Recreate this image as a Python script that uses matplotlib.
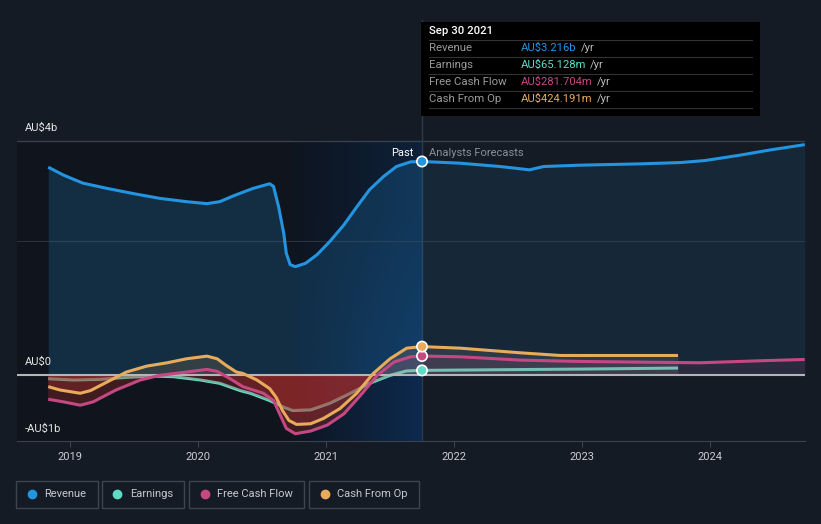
import numpy as np
import matplotlib.pyplot as plt
from matplotlib.patches import Rectangle
from matplotlib.lines import Line2D

plt.rcParams['font.family'] = ['Roboto', 'DejaVu Sans']

# dados (AU$ bilhoes)
anos_passado = [2018.83, 2018.95, 2019.10, 2019.29, 2019.50, 2019.70, 2019.91, 2020.07, 2020.17,
                2020.28, 2020.43, 2020.56, 2020.59, 2020.63, 2020.67, 2020.69, 2020.72, 2020.76,
                2020.84, 2020.93, 2021.03, 2021.14, 2021.24, 2021.34, 2021.45, 2021.55, 2021.66, 2021.75]
receita_passado = [3.13, 3.01, 2.89, 2.81, 2.73, 2.66, 2.61, 2.58, 2.61,
                   2.70, 2.81, 2.88, 2.84, 2.53, 2.13, 1.83, 1.66, 1.63,
                   1.68, 1.81, 2.01, 2.26, 2.53, 2.79, 2.99, 3.14, 3.21, 3.216]

anos_receita_prev = [2021.75, 2022.05, 2022.36, 2022.59, 2022.70, 2022.98, 2023.45, 2023.77,
                     2023.96, 2024.23, 2024.47, 2024.74]
receita_prev = [3.216, 3.19, 3.14, 3.09, 3.14, 3.16, 3.18, 3.20, 3.23, 3.31, 3.39, 3.47]

anos_lucro = [2018.83, 2019.03, 2019.23, 2019.44, 2019.65, 2019.81, 2020.02, 2020.17, 2020.33,
              2020.41, 2020.56, 2020.67, 2020.74, 2020.88, 2021.03, 2021.19, 2021.34, 2021.50,
              2021.63, 2021.75]
lucro = [-0.06, -0.08, -0.07, -0.04, -0.02, -0.03, -0.08, -0.13, -0.24,
         -0.28, -0.39, -0.49, -0.54, -0.53, -0.43, -0.28, -0.13, -0.01,
         0.057, 0.065]
anos_lucro_prev = [2021.75, 2022.05, 2023.00, 2023.75]
lucro_prev = [0.065, 0.07, 0.085, 0.10]

anos_caixa_op = [2018.83, 2018.92, 2019.08, 2019.16, 2019.29, 2019.44, 2019.60, 2019.76, 2019.91,
                 2020.07, 2020.15, 2020.22, 2020.30, 2020.35, 2020.46, 2020.56, 2020.61, 2020.66,
                 2020.71, 2020.77, 2020.88, 2020.98, 2021.11, 2021.24, 2021.37, 2021.50, 2021.63,
                 2021.75]
caixa_op = [-0.18, -0.23, -0.28, -0.24, -0.11, 0.04, 0.13, 0.18, 0.24,
            0.28, 0.24, 0.14, 0.04, 0.02, -0.08, -0.21, -0.34, -0.54,
            -0.69, -0.75, -0.74, -0.66, -0.51, -0.28, 0.02, 0.24, 0.40,
            0.424]
anos_caixa_op_prev = [2021.75, 2022.05, 2022.52, 2022.83, 2023.75]
caixa_op_prev = [0.424, 0.40, 0.33, 0.29, 0.29]

anos_fcl = [2018.83, 2018.95, 2019.08, 2019.18, 2019.36, 2019.55, 2019.70, 2019.91, 2020.07,
            2020.15, 2020.25, 2020.35, 2020.51, 2020.59, 2020.65, 2020.69, 2020.76, 2020.88,
            2021.01, 2021.14, 2021.27, 2021.40, 2021.53, 2021.66, 2021.75]
fcl = [-0.37, -0.41, -0.46, -0.41, -0.23, -0.08, -0.01, 0.04, 0.08,
       0.05, -0.06, -0.18, -0.28, -0.39, -0.64, -0.81, -0.89, -0.85,
       -0.76, -0.59, -0.31, -0.01, 0.19, 0.27, 0.2817]
anos_fcl_prev = [2021.75, 2022.05, 2022.52, 2022.98, 2023.45, 2023.92, 2024.39, 2024.74]
fcl_prev = [0.2817, 0.27, 0.22, 0.20, 0.19, 0.18, 0.21, 0.23]

anos_ticks = [2019, 2020, 2021, 2022, 2023, 2024]

cor_receita = '#2394df'
cor_lucro = '#5fdcc6'
cor_fcl = '#c64883'
cor_caixa = '#e8ab5b'

W, H = 821, 524
def fx(px):
    return px / W
def fy(py):
    return 1 - py / H

fig = plt.figure(figsize=(W / 100, H / 100), dpi=100)
fig.patch.set_facecolor('#151b25')

ax = fig.add_axes([fx(17), fy(441), 788 / W, (441 - 20) / H])
ax.set_facecolor('none')
x0, x1 = 2018.586, 2024.742
topo = 3.53
hoje = 2021.75
inicio_destaque = 2020.74

# regiao do passado (mais escura) e faixa do ultimo ano
ax.fill_between([x0, inicio_destaque], -1, topo, color='#10151d', zorder=0, lw=0)
grad = np.linspace(0, 1, 200)
cor_a = np.array([13, 21, 32]) / 255
cor_b = np.array([14, 42, 78]) / 255
img = np.zeros((2, 200, 3))
for i in range(3):
    img[0, :, i] = cor_a[i] + (cor_b[i] - cor_a[i]) * grad
    img[1, :, i] = cor_a[i] + (cor_b[i] - cor_a[i]) * grad * 0.55
ax.imshow(img, extent=[inicio_destaque, hoje, -1, topo], aspect='auto', zorder=0.5,
          interpolation='bilinear', origin='lower')
ax.set_xlim(x0, x1)
ax.set_ylim(-1.0, 5.35)

# grades
ax.axhline(topo, color='#3a4049', lw=1, zorder=1)
ax.axhline(2.02, color='#2a313b', lw=0.8, zorder=1)
ax.axvline(hoje, color='#2c3a4f', lw=1, zorder=1)

# areas
ax.fill_between(anos_passado, receita_passado, 0, color=cor_receita, alpha=0.2, lw=0, zorder=1.5)
ax.fill_between(anos_receita_prev, receita_prev, 0, color=cor_receita, alpha=0.1, lw=0, zorder=1.5)

for xs, ys in [(anos_fcl, fcl), (anos_caixa_op, caixa_op), (anos_lucro, lucro)]:
    ys = np.array(ys)
    ax.fill_between(xs, ys, 0, where=ys < 0, interpolate=True, color='#c0302e', alpha=0.28, lw=0, zorder=3)

c = np.array(caixa_op)
ax.fill_between(anos_caixa_op, c, 0, where=c > 0, interpolate=True, color=cor_caixa, alpha=0.15, lw=0, zorder=3)
f = np.array(fcl)
ax.fill_between(anos_fcl, f, 0, where=f > 0, interpolate=True, color=cor_fcl, alpha=0.12, lw=0, zorder=3)
ax.fill_between(anos_caixa_op_prev, caixa_op_prev, 0, color='#9a9a9a', alpha=0.18, lw=0, zorder=3)
ax.fill_between(anos_fcl_prev, fcl_prev, 0, color=cor_fcl, alpha=0.12, lw=0, zorder=3)

# linha do zero
ax.axhline(0, color='#b5b5b5', lw=1.5, zorder=3.5)

# linhas
estilo = dict(lw=2.2, solid_joinstyle='round', solid_capstyle='butt')
ax.plot(anos_lucro, lucro, color=cor_lucro, zorder=2.5, **estilo)
ax.plot(anos_lucro_prev, lucro_prev, color=cor_lucro, zorder=2.5, **estilo)
ax.plot(anos_passado, receita_passado, color=cor_receita, zorder=5, **estilo)
ax.plot(anos_receita_prev, receita_prev, color=cor_receita, zorder=5, **estilo)
ax.plot(anos_fcl, fcl, color=cor_fcl, zorder=5, **estilo)
ax.plot(anos_fcl_prev, fcl_prev, color=cor_fcl, zorder=5, **estilo)
ax.plot(anos_caixa_op, caixa_op, color=cor_caixa, zorder=5, **estilo)
ax.plot(anos_caixa_op_prev, caixa_op_prev, color=cor_caixa, zorder=5, **estilo)

ax.scatter([hoje] * 4, [receita_passado[-1], lucro[-1], fcl[-1], caixa_op[-1]],
           c=[cor_receita, cor_lucro, cor_fcl, cor_caixa], s=55, edgecolors='white',
           linewidths=1.2, zorder=10)

# eixos
for lado in ['top', 'right', 'left']:
    ax.spines[lado].set_visible(False)
ax.spines['bottom'].set_color('#3b424d')
ax.set_yticks([])
ax.set_xticks(anos_ticks)
ax.set_xticklabels([str(a) for a in anos_ticks])
ax.tick_params(axis='x', colors='#3b424d', labelcolor='#c8ccd2', labelsize=8, length=4, pad=4)

fig.text(fx(25), fy(128), 'AU$4b', color='#e6e6e6', fontsize=8, va='center')
fig.text(fx(25), fy(362), 'AU$0', color='#e6e6e6', fontsize=8, va='center')
fig.text(fx(25), fy(429), '-AU$1b', color='#e6e6e6', fontsize=8, va='center')

fig.text(fx(413), fy(153), 'Past', color='white', fontsize=8, ha='right', va='center')
fig.text(fx(429), fy(153), 'Analysts Forecasts', color='#8a9099', fontsize=8, va='center')

# caixa de informacao
fig.add_artist(Rectangle((fx(421), fy(116)), 339 / W, 94 / H, transform=fig.transFigure,
                         facecolor='black', edgecolor='none', zorder=20))
fig.text(fx(429), fy(31), 'Sep 30 2021', color='white', fontsize=8.2, fontweight='medium',
         va='center', zorder=21)
for yl in [40, 57, 74, 91, 108]:
    fig.add_artist(Line2D([fx(429), fx(752)], [fy(yl), fy(yl)], color='#333333', lw=0.8,
                          transform=fig.transFigure, zorder=21))
nomes = ['Revenue', 'Earnings', 'Free Cash Flow', 'Cash From Op']
valores = ['AU$3.216b', 'AU$65.128m', 'AU$281.704m', 'AU$424.191m']
cores = [cor_receita, cor_lucro, cor_fcl, cor_caixa]
textos_valor = []
for i, yr in enumerate([48, 65, 82, 99]):
    fig.text(fx(429), fy(yr), nomes[i], color='#9a9a9a', fontsize=8.2, va='center', zorder=21)
    t = fig.text(fx(521), fy(yr), valores[i], color=cores[i], fontsize=8.1, va='center', zorder=21)
    textos_valor.append((t, yr))

fig.canvas.draw()
renderer = fig.canvas.get_renderer()
for t, yr in textos_valor:
    bb = t.get_window_extent(renderer)
    fig.text(fx(bb.x1 + 4), fy(yr), '/yr', color='#bbbbbb', fontsize=8.1, va='center', zorder=21)

# legenda
caixas = [(16, 98), (102, 184), (189, 304), (309, 419)]
pontos = [32, 117, 205, 325]
textos = [44, 130, 217, 337]
for i in range(4):
    a, b = caixas[i]
    fig.add_artist(Rectangle((fx(a), fy(508)), (b - a) / W, 27 / H, transform=fig.transFigure,
                             facecolor='none', edgecolor='#3d4450', lw=1))
    fig.add_artist(Line2D([fx(pontos[i])], [fy(494)], marker='o', markersize=6, color=cores[i],
                          lw=0, transform=fig.transFigure))
    fig.text(fx(textos[i]), fy(494), nomes[i], color='#c5c9cf', fontsize=8, va='center')

fig.savefig('out.png', dpi=100, facecolor=fig.get_facecolor())
